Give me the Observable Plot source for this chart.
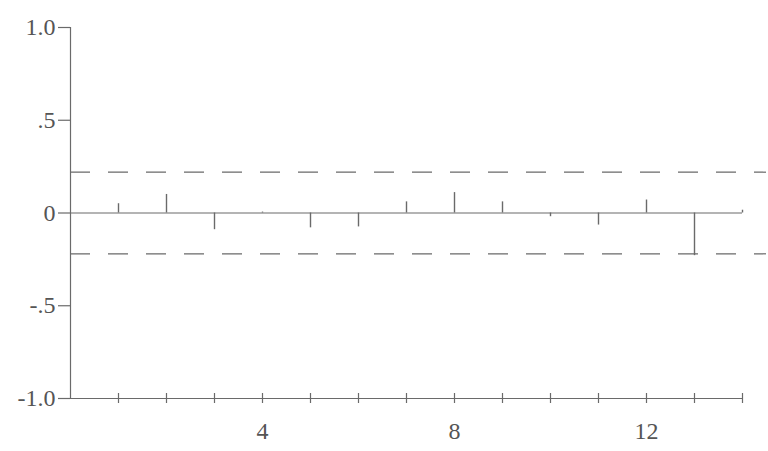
<!DOCTYPE html>
<html>
<head>
<meta charset="utf-8">
<script src="https://cdn.jsdelivr.net/npm/d3@7"></script>
<script src="https://cdn.jsdelivr.net/npm/@observablehq/plot@0.6"></script>
<style>
  html, body { margin: 0; padding: 0; background: #fff; }
  svg { display: block; }
</style>
</head>
<body>
<div id="chart"></div>
<script>
// Autocorrelation by lag
const lags = [1, 2, 3, 4, 5, 6, 7, 8, 9, 10, 11, 12, 13, 14];
const acf = [0.05, 0.10, -0.09, 0.005, -0.08, -0.075, 0.06, 0.11, 0.06, -0.02, -0.065, 0.07, -0.23, 0.015];
// Confidence limits
const upperLimit = 0.22;
const lowerLimit = -0.22;
// Axis ticks
const yTicks = [-1, -0.5, 0, 0.5, 1];
const yTickLabels = ["-1.0", "-.5", "0", ".5", "1.0"];
const xTicks = [1, 2, 3, 4, 5, 6, 7, 8, 9, 10, 11, 12, 13, 14];
const xLabelTicks = [4, 8, 12];

const ink = "#6a6a6a";
const textInk = "#555";
const font = "Liberation Serif";

const data = lags.map((lag, i) => ({lag, r: acf[i]}));

const chart = Plot.plot({
  width: 768,
  height: 451,
  marginLeft: 70,
  marginRight: 26,
  marginTop: 27,
  marginBottom: 53,
  x: {domain: [0, 14], axis: null},
  y: {domain: [-1, 1], axis: null},
  style: {fontFamily: font, background: "#fff"},
  marks: [
    // y axis line and ticks
    Plot.ruleX([0], {y1: -1, y2: 1, stroke: ink, strokeWidth: 1.2}),
    Plot.axisY({
      ticks: yTicks,
      label: null,
      tickSize: 12,
      tickPadding: 3,
      tickFormat: d => yTickLabels[yTicks.indexOf(d)],
      fontSize: 24,
      fontFamily: font,
      fill: textInk,
      stroke: ink,
      strokeWidth: 1.2
    }),
    // x axis line and ticks
    Plot.ruleY([-1], {x1: 0, x2: 14, stroke: ink, strokeWidth: 1.2}),
    Plot.ruleX(xTicks, {x: d => d, y1: -1, y2: -1, insetTop: -5, insetBottom: -5, stroke: ink, strokeWidth: 1.2}),
    Plot.text(xLabelTicks, {x: d => d, y: -1, dy: 33, text: d => String(d), fontSize: 24, fontFamily: font, fill: textInk}),
    // confidence limits
    Plot.ruleY([upperLimit, lowerLimit], {x1: 0, x2: 14.5, stroke: ink, strokeWidth: 1.2, strokeDasharray: "20,18", clip: false}),
    // zero line
    Plot.ruleY([0], {x1: 0, x2: 14, stroke: ink, strokeWidth: 1.2}),
    // spikes
    Plot.ruleX(data, {x: "lag", y1: 0, y2: "r", stroke: ink, strokeWidth: 1.4})
  ]
});

document.getElementById("chart").appendChild(chart);
</script>
</body>
</html>
